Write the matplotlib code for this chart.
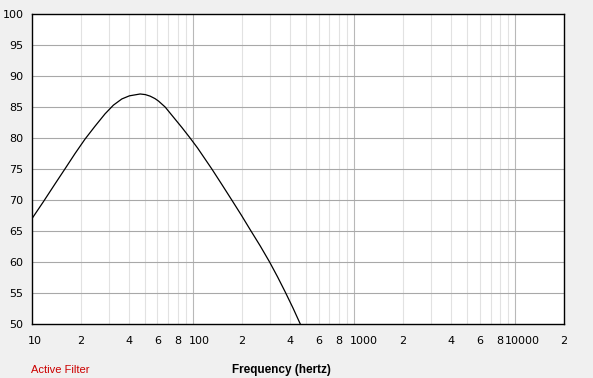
import numpy as np
import matplotlib.pyplot as plt
from matplotlib.transforms import ScaledTranslation

# response (frequency in Hz, level in dB)
freq = [10, 11.75, 13.9, 16.0, 18.5, 21.3, 24.6, 28.4, 32.0, 36.1, 40.2, 46.9, 50.5, 54.1, 58, 61,
        67, 75.5, 85.1, 95.7, 106.4, 130.6, 150.7, 173.6, 198.6, 226, 260.6, 298, 334, 372, 416, 462]
level = [67.0, 69.7, 72.6, 75.0, 77.5, 79.8, 81.9, 83.9, 85.3, 86.3, 86.8, 87.1, 87.0, 86.75, 86.35, 85.95,
         85.0, 83.35, 81.7, 80.0, 78.4, 75.0, 72.5, 70.0, 67.6, 65.2, 62.6, 60.0, 57.6, 55.2, 52.6, 50.0]

x_ticks = [10, 20, 40, 60, 80, 100, 200, 400, 600, 800, 1000, 2000, 4000, 6000, 8000, 10000, 20000]
x_labels = ["10", "2", "4", "6", "8", "100", "2", "4", "6", "8", "1000", "2", "4", "6", "8", "10000", "2"]
y_ticks = [50, 55, 60, 65, 70, 75, 80, 85, 90, 95, 100]

bg = "#f0f0f0"
fig = plt.figure(figsize=(5.93, 3.78), dpi=100, facecolor=bg)
ax = fig.add_axes([32/593, 54/378, 532/593, 310/378])
ax.set_facecolor("white")

ax.set_xscale("log")
ax.set_xlim(10, 20000)
ax.set_ylim(50, 100)

# grid: light minor lines, darker decade / 5 dB lines
minor = [m * 10**d for d in range(1, 5) for m in range(2, 10) if m * 10**d < 20000]
for f in minor:
    ax.axvline(f, color="#e2e2e2", lw=0.8, zorder=0)
for f in [100, 1000, 10000]:
    ax.axvline(f, color="#b8b8b8", lw=0.8, zorder=0)
for y in y_ticks[1:-1]:
    ax.axhline(y, color="#a8a8a8", lw=0.8, zorder=0)

ax.plot(freq, level, color="black", lw=0.9, zorder=3)

ax.set_xticks(x_ticks)
ax.set_xticklabels(x_labels)
ax.set_xticks([], minor=True)
ax.set_yticks(y_ticks)
ax.tick_params(axis="both", length=0, labelsize=8, colors="black")
ax.tick_params(axis="x", pad=8.5)
ax.tick_params(axis="y", pad=6.2)

# decade labels start just left of their grid line
for lab in ax.get_xticklabels():
    txt = lab.get_text()
    if len(txt) > 1:
        shift = -11 if txt == "10000" else -4
        lab.set_horizontalalignment("left")
        lab.set_transform(lab.get_transform() + ScaledTranslation(shift/100, 0, fig.dpi_scale_trans))

for s in ax.spines.values():
    s.set_color("black")
    s.set_linewidth(1.0)

fig.text(31/593, 1 - 370/378, "Active Filter", color="#cc0000", fontsize=8,
         family="Liberation Sans", va="center", ha="left")
fig.text(281.5/593, 1 - 370/378, "Frequency (hertz)", color="black", fontsize=8.5,
         family="Liberation Sans", fontweight="bold", va="center", ha="center")

fig.savefig("out.png", dpi=100, facecolor=bg)
